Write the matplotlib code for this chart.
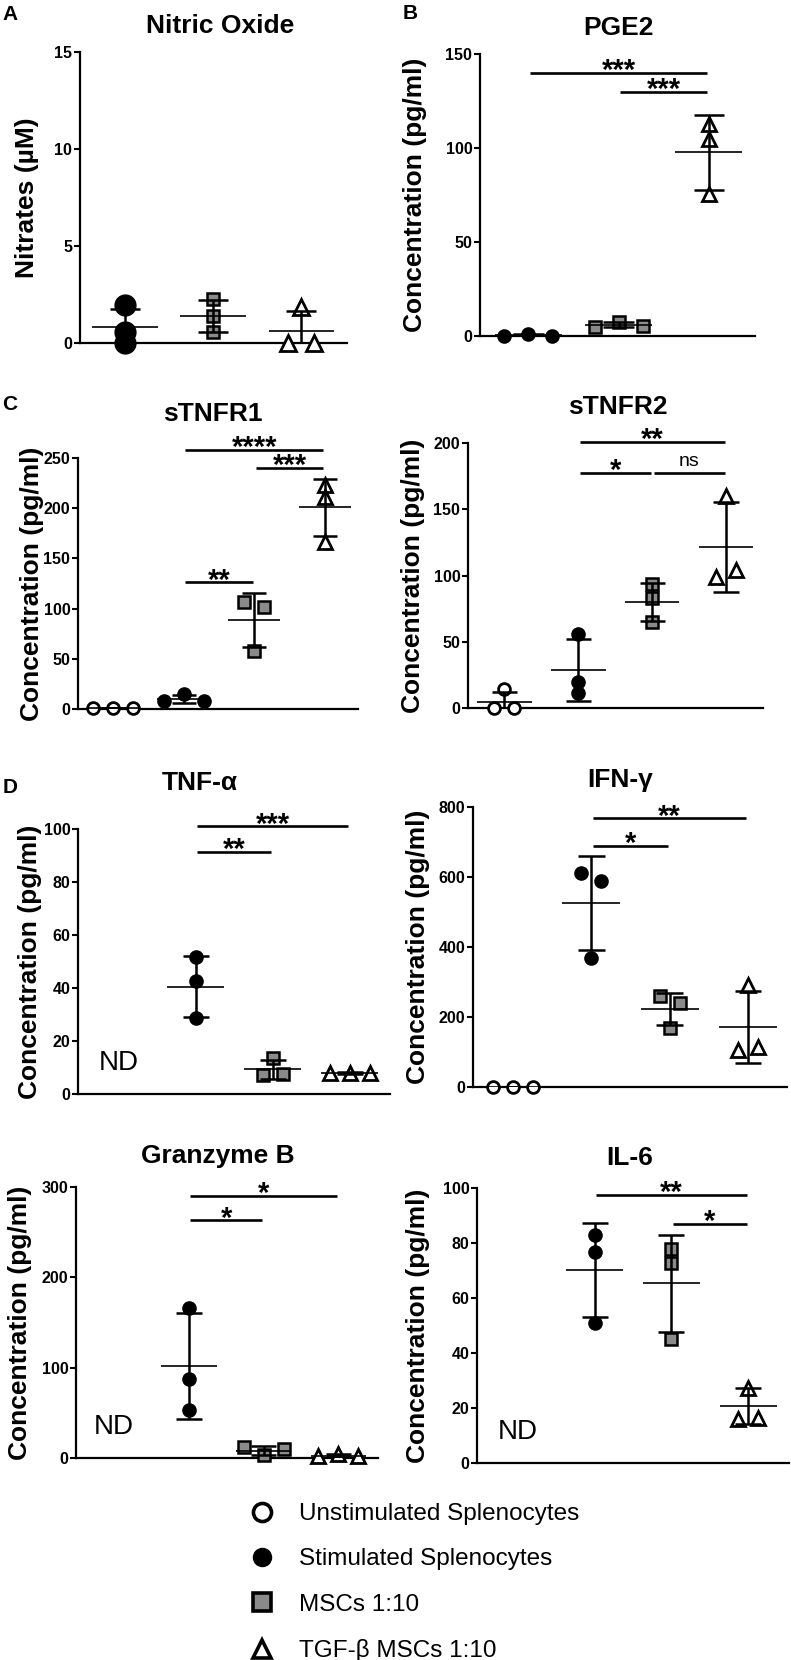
import matplotlib
matplotlib.use('Agg')
import matplotlib.pyplot as plt
from matplotlib.lines import Line2D
import numpy as np

plt.rcParams['font.family'] = ['Liberation Sans', 'DejaVu Sans']

W, H = 791, 1660

# ── groups ────────────────────────────────────────────────────────────────────
GROUP_KEYS = ['unstim', 'stim', 'msc', 'tgf']
GROUP_NAMES = ['Unstimulated Splenocytes', 'Stimulated Splenocytes',
               'MSCs 1:10', 'TGF-\u03b2 MSCs 1:10']

# ── data ─────────────────────────────────────────────────────────────────────
# A  Nitric oxide  (stim, msc, tgf)
no_vals = [[1.95, 0.55, 0.0], [2.27, 1.39, 0.58], [1.85, 0.0, 0.0]]
no_mean = [0.82, 1.40, 0.62]
no_sd = [0.93, 0.83, 1.04]
no_ticks = [0, 5, 10, 15]

# B  PGE2  (stim, msc, tgf)
pge_vals = [[0.0, 1.2, 0.0], [5.0, 7.5, 5.3], [113.0, 104.6, 75.5]]
pge_mean = [0.4, 6.0, 97.7]
pge_sd = [0.7, 1.4, 20.0]
pge_ticks = [0, 50, 100, 150]
pge_sig = [(0, 2, 140, '***'), (1, 2, 130, '***')]

# C  sTNFR1 / sTNFR2  (unstim, stim, msc, tgf)
tnfr1_vals = [[0.8, 0.8, 0.8], [8, 15, 8], [107, 101.6, 58], [223, 211.5, 166.6]]
tnfr1_mean = [0.8, 10.3, 88.7, 200.7]
tnfr1_sd = [0.3, 4.0, 27.0, 28.5]
tnfr1_ticks = [0, 50, 100, 150, 200, 250]
tnfr1_sig = [(1, 3, 258, '****'), (2, 3, 240, '***'), (1, 2, 126, '**')]

tnfr2_vals = [[14.5, 0, 0], [55.8, 19.9, 11], [93.3, 82.7, 65], [160, 98.6, 104]]
tnfr2_mean = [4.5, 28.7, 79.7, 121.2]
tnfr2_sd = [7.5, 23.2, 14.3, 34.0]
tnfr2_ticks = [0, 50, 100, 150, 200]
tnfr2_sig = [(1, 3, 201, '**'), (1, 2, 177.6, '*'), (2, 3, 177.6, 'ns')]

# D  cytokines  (unstim = ND where None)
tnf_vals = [None, [51.8, 42.8, 28.6], [13.5, 7.0, 7.5], [7.8, 7.8, 7.8]]
tnf_mean = [None, 40.5, 9.3, 7.8]
tnf_sd = [None, 11.6, 3.6, 0.4]
tnf_ticks = [0, 20, 40, 60, 80, 100]
tnf_sig = [(1, 3, 101, '***'), (1, 2, 91.4, '**')]

ifn_vals = [[0, 0, 0], [610, 589.5, 368], [260, 239, 167.6], [291, 106, 115]]
ifn_mean = [0, 525, 222, 170.6]
ifn_sd = [0, 134, 46, 103]
ifn_ticks = [0, 200, 400, 600, 800]
ifn_sig = [(1, 3, 768, '**'), (1, 2, 689, '*')]

gzb_vals = [None, [166.5, 87, 53], [12, 3, 10], [2, 4, 2]]
gzb_mean = [None, 102, 8.3, 2.7]
gzb_sd = [None, 58.5, 4.7, 1.2]
gzb_ticks = [0, 100, 200, 300]
gzb_sig = [(1, 3, 290, '*'), (1, 2, 263, '*')]

il6_vals = [None, [82.9, 76.8, 50.8], [78, 72.6, 45], [27.3, 16, 16.5]]
il6_mean = [None, 70.2, 65.3, 20.7]
il6_sd = [None, 17.0, 17.6, 6.4]
il6_ticks = [0, 20, 40, 60, 80, 100]
il6_sig = [(1, 3, 97.4, '**'), (2, 3, 86.9, '*')]

# ── styles ────────────────────────────────────────────────────────────────────
STYLE = {
    'unstim': dict(marker='o', mfc='white', mec='black', mew=2.0, ms=8.5),
    'stim':   dict(marker='o', mfc='black', mec='black', mew=1.0, ms=9.5),
    'msc':    dict(marker='s', mfc='#8a8a8a', mec='black', mew=1.8, ms=9.0),
    'tgf':    dict(marker='^', mfc='white', mec='black', mew=2.0, ms=9.5),
}
BOLD = dict(fontweight='bold')


def rect(l, t, r, b):
    return [l / W, 1 - b / H, (r - l) / W, (b - t) / H]


def swarm(values, px_per_unit, thr_px, step):
    """Spread overlapping points sideways, GraphPad-style."""
    v = np.asarray(values, float)
    order = np.argsort(v, kind='stable')
    clusters = [[order[0]]]
    for a, b in zip(order[:-1], order[1:]):
        if (v[b] - v[a]) * px_per_unit < thr_px:
            clusters[-1].append(b)
        else:
            clusters.append([b])
    off = np.zeros(len(v))
    for c in clusters:
        c = sorted(c)
        for j, idx in enumerate(c):
            off[idx] = (j - (len(c) - 1) / 2) * step
    return off


def panel(box, keys, vals, means, sds, ticks, xlim, ylabel, ylab_off,
          sig=(), step_px=20, msize=None):
    ax = fig.add_axes(rect(*box))
    l, t, r, b = box
    ymax = ticks[-1]
    ax.set_xlim(*xlim)
    ax.set_ylim(0, ymax)
    px_y = (b - t) / ymax
    px_x = (r - l) / (xlim[1] - xlim[0])

    for i, key in enumerate(keys):
        x0 = i + 1
        if vals[i] is None:
            ax.annotate('ND', xy=(x0, 0), xytext=(0, 22), textcoords='offset points',
                        ha='center', va='center', fontsize=20)
            continue
        st = dict(STYLE[key])
        if msize and key in msize:
            st['ms'] = msize[key]
        off = swarm(vals[i], px_y, 10, step_px / px_x)
        ax.plot(x0 + off, vals[i], ls='none', clip_on=False, zorder=3, **st)
        m, s = means[i], sds[i]
        ax.vlines(x0, max(m - s, 0), m + s, color='black', lw=1.8, zorder=4)
        caps = [c for c in (m - s, m + s) if c >= 0]
        ax.hlines(caps, x0 - 0.17, x0 + 0.17, color='black', lw=1.8, zorder=4)
        ax.hlines(m, x0 - 0.37, x0 + 0.37, color='black', lw=1.2, zorder=4)

    for g1, g2, y, lab in sig:
        x1, x2 = g1 + 1 + 0.02, g2 + 1 - 0.02
        ax.plot([x1, x2], [y, y], color='black', lw=1.9, clip_on=False,
                solid_capstyle='butt')
        if lab == 'ns':
            ax.annotate(lab, xy=((x1 + x2) / 2, y), xytext=(0, 5),
                        textcoords='offset points', ha='center', va='baseline',
                        fontsize=14, annotation_clip=False)
        else:
            ax.annotate(lab, xy=((x1 + x2) / 2, y), xytext=(0, -4.5),
                        textcoords='offset points', ha='center', va='baseline',
                        fontsize=21, annotation_clip=False, **BOLD)

    ax.set_yticks(ticks)
    ax.set_yticklabels([str(v) for v in ticks], fontsize=11.5, **BOLD)
    ax.set_xticks([])
    ax.tick_params(axis='y', length=4, width=1.5, pad=1.5)
    for sp in ('top', 'right'):
        ax.spines[sp].set_visible(False)
    for sp in ('left', 'bottom'):
        ax.spines[sp].set_linewidth(1.6)
    ax.text(-ylab_off / (r - l), 0.5, ylabel, transform=ax.transAxes,
            rotation=90, ha='center', va='center', fontsize=19, **BOLD)
    return ax


def fig_text(x, y, s, **kw):
    # y is the text baseline, in pixels from the top
    fig.text(x / W, 1 - y / H, s, ha='center', va='baseline', **kw)


fig = plt.figure(figsize=(W / 100, H / 100), dpi=100)

conc = 'Concentration (pg/ml)'
three = ['stim', 'msc', 'tgf']

panel((80, 52, 347, 343), three, no_vals, no_mean, no_sd, no_ticks,
      (0.49, 3.52), 'Nitrates (\u00b5M)', 53, step_px=26,
      msize={'stim': 15, 'tgf': 12})
panel((480, 54, 755, 336), three, pge_vals, pge_mean, pge_sd, pge_ticks,
      (0.467, 3.51), conc, 65, sig=pge_sig, step_px=24)
panel((78, 458, 358, 709), GROUP_KEYS, tnfr1_vals, tnfr1_mean, tnfr1_sd,
      tnfr1_ticks, (0.505, 4.47), conc, 46, sig=tnfr1_sig)
panel((468, 443, 763, 708), GROUP_KEYS, tnfr2_vals, tnfr2_mean, tnfr2_sd,
      tnfr2_ticks, (0.51, 4.5), conc, 55, sig=tnfr2_sig)
panel((78, 829, 390, 1094), GROUP_KEYS, tnf_vals, tnf_mean, tnf_sd,
      tnf_ticks, (0.47, 4.52), conc, 48, sig=tnf_sig)
panel((473, 807, 787, 1087), GROUP_KEYS, ifn_vals, ifn_mean, ifn_sd,
      ifn_ticks, (0.487, 4.5), conc, 55, sig=ifn_sig)
panel((76, 1187, 378, 1458), GROUP_KEYS, gzb_vals, gzb_mean, gzb_sd,
      gzb_ticks, (0.49, 4.53), conc, 56, sig=gzb_sig)
panel((477, 1188, 789, 1463), GROUP_KEYS, il6_vals, il6_mean, il6_sd,
      il6_ticks, (0.47, 4.53), conc, 59, sig=il6_sig)

# titles
for x, y, s in [(220, 33, 'Nitric Oxide'), (618, 35, 'PGE2'),
                (213, 421, 'sTNFR1'), (618, 414, 'sTNFR2'),
                (200, 790, 'TNF-\u03b1'), (620, 787, 'IFN-\u03b3'),
                (218, 1163, 'Granzyme B'), (630, 1165, 'IL-6')]:
    fig_text(x, y, s, fontsize=19, **BOLD)

# panel letters
for x, y, s in [(10, 20, 'A'), (410, 19, 'B'), (10, 410, 'C'), (10, 793, 'D')]:
    fig_text(x, y, s, fontsize=15, **BOLD)

# legend
handles = []
for key, name in zip(GROUP_KEYS, GROUP_NAMES):
    st = dict(STYLE[key])
    st['ms'] = 13
    st['mew'] = 2.6 if key != 'stim' else 1.0
    handles.append(Line2D([], [], ls='none', label=name, **st))
fig.legend(handles=handles, loc='upper left', bbox_to_anchor=(250 / W, 1 - 1503 / H),
           frameon=False, fontsize=17.5, handlelength=1.0, handletextpad=1.0,
           labelspacing=0.96, borderpad=0, borderaxespad=0)

fig.savefig('out.png', dpi=100)
